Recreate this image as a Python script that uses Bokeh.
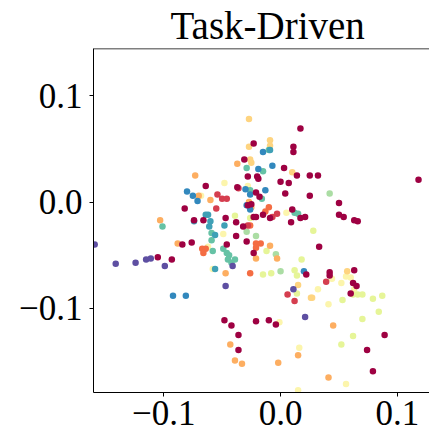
from bokeh.plotting import figure
from bokeh.models import FixedTicker, CustomJSTickFormatter, Span
from bokeh.embed import file_html
from bokeh.resources import INLINE

TITLE = "Task-Driven"
X_MIN, X_MAX = -0.16, 0.1274
Y_MIN, Y_MAX = -0.179, 0.1443
TICKS = [-0.1, 0.0, 0.1]

# dark red
dr_x = [-0.023, 0.017, 0.011, 0.011, -0.031, -0.028, -0.064, -0.037, -0.020, -0.019, 0.003, 0.014, 0.025, 0.032,
        0.000, 0.007, -0.021, 0.004, -0.018, 0.025, 0.118, 0.050, 0.050, 0.054, 0.063, 0.066, -0.025, -0.028,
        -0.082, -0.074, -0.066, -0.047, -0.038, -0.023, -0.021, -0.015, -0.009, 0.010, 0.017, 0.021, 0.009,
        -0.032, -0.038, -0.029, -0.046, -0.084, -0.076, -0.105, -0.093, -0.023, 0.033, 0.022, 0.042, 0.042,
        0.063, 0.062, 0.065, 0.060, 0.089, 0.074, 0.079, -0.048, -0.042, -0.021, -0.010, -0.004, -0.036, -0.036]
dr_y = [0.055, 0.069, 0.052, 0.047, 0.040, 0.024, 0.015, 0.014, 0.024, 0.022, 0.032, 0.025, 0.025, 0.025,
        0.019, 0.018, 0.009, 0.008, 0.005, 0.006, 0.021, -0.001, -0.012, -0.014, -0.017, -0.018, -0.002, -0.003,
        -0.006, -0.017, -0.017, -0.015, -0.019, -0.014, -0.014, -0.012, -0.015, -0.007, -0.015, -0.014, -0.019,
        -0.023, -0.032, -0.037, -0.040, -0.040, -0.038, -0.052, -0.054, -0.048, -0.042, -0.068, -0.066, -0.069,
        -0.064, -0.076, -0.079, -0.086, -0.125, -0.139, -0.159, -0.111, -0.116, -0.112, -0.111, -0.115, -0.125, -0.139]
# red
r_x = [-0.054, -0.050, -0.046, -0.055, -0.036, -0.003, -0.007, -0.028, 0.039, 0.006, 0.012]
r_y = [0.007, 0.003, 0.003, -0.006, 0.013, -0.011, -0.014, -0.022, -0.075, -0.087, -0.093]
# orange-red
or_x = [-0.010, -0.013, -0.026, -0.067, -0.064, -0.066, -0.021, -0.017, -0.021, -0.026]
or_y = [-0.005, -0.009, -0.022, -0.044, -0.044, -0.048, -0.039, -0.039, -0.043, -0.067]
# orange
o_x = [-0.073, -0.037, -0.070, -0.060, -0.027, -0.025, -0.103, -0.088, -0.009, -0.003, -0.021, -0.047,
       0.045, 0.041, -0.043, -0.039, -0.033, -0.002, 0.015]
o_y = [0.025, 0.036, 0.006, 0.002, 0.000, -0.005, -0.017, -0.039, -0.041, -0.053, -0.053, -0.067,
       -0.116, -0.165, -0.134, -0.149, -0.152, -0.151, -0.144]
# light orange
lo_x = [-0.027, -0.009, -0.009, -0.027, -0.026, -0.025, 0.010, 0.015, 0.026, 0.027, 0.057]
lo_y = [0.078, 0.058, 0.053, 0.052, 0.040, 0.037, 0.028, -0.078, -0.090, -0.090, -0.065]
# pale yellow
py_x = [-0.048, -0.068, -0.028, -0.062, -0.049, -0.058, 0.005, 0.032, 0.041, 0.056, 0.060, 0.052, 0.044,
        0.063, -0.001, 0.016, 0.056, 0.015]
py_y = [0.018, 0.006, 0.015, -0.042, -0.030, -0.063, -0.010, -0.082, -0.096, -0.070, -0.071, -0.076, -0.072,
        -0.082, -0.113, -0.137, -0.171, -0.177]
# yellow-green
yg_x = [-0.039, -0.026, 0.028, 0.018, -0.012, -0.015, -0.008, 0.012, 0.014, 0.014, 0.062, 0.066, 0.070,
        0.053, 0.079, 0.087, 0.084, 0.070, 0.062, 0.052]
yg_y = [-0.013, -0.015, -0.027, -0.054, -0.046, -0.068, -0.067, -0.064, -0.069, -0.086, -0.087, -0.087, -0.087,
        -0.092, -0.091, -0.088, -0.103, -0.110, -0.126, -0.134]
# light green
lg_x = [0.042, -0.029, -0.021, -0.004, 0.000]
lg_y = [0.008, -0.028, -0.032, -0.049, -0.065]
# teal green
tg_x = [-0.029, -0.015, -0.026, -0.016, 0.012, 0.015, -0.101, -0.059, -0.059, -0.058, -0.049, -0.046, -0.044,
        -0.045, -0.042, -0.039, -0.010]
tg_y = [0.032, 0.029, 0.011, 0.003, -0.010, -0.011, -0.023, -0.029, -0.036, -0.046, -0.044, -0.048, -0.050,
        -0.054, -0.057, -0.054, 0.049]
# teal
te_x = [-0.074, -0.064, -0.062, -0.060, -0.061, -0.048, -0.056, -0.056, -0.009]
te_y = [-0.018, -0.012, -0.012, -0.018, -0.023, -0.022, -0.031, -0.063, 0.049]
# blue
b_x = [-0.080, -0.075, -0.071, -0.015, -0.019, -0.007, -0.030, -0.013, -0.026, -0.029, -0.026, 0.020, -0.092, -0.081]
b_y = [0.010, 0.006, 0.001, 0.047, 0.031, 0.034, 0.012, 0.011, 0.007, -0.003, -0.007, -0.065, -0.088, -0.088]
# purple
p_x = [-0.159, -0.141, -0.124, -0.115, -0.111, -0.099, -0.041, -0.047, 0.011, 0.021]
p_y = [-0.040, -0.058, -0.057, -0.054, -0.053, -0.060, -0.060, -0.079, -0.082, -0.108]

groups = [
    (py_x, py_y, "#fcf5ac"),
    (yg_x, yg_y, "#e6f598"),
    (lg_x, lg_y, "#abdda4"),
    (lo_x, lo_y, "#fed480"),
    (o_x, o_y, "#fdae61"),
    (or_x, or_y, "#f46d43"),
    (r_x, r_y, "#d53e4f"),
    (tg_x, tg_y, "#66c2a5"),
    (te_x, te_y, "#3fa0b6"),
    (b_x, b_y, "#3288bd"),
    (p_x, p_y, "#5e4fa2"),
    (dr_x, dr_y, "#9e0142"),
]

FONT = "Liberation Serif"

p = figure(width=429, height=433, output_backend="svg", toolbar_location=None,
           x_range=(X_MIN, X_MAX), y_range=(Y_MIN, Y_MAX),
           min_border_left=93, min_border_right=0, min_border_top=47, min_border_bottom=41)

for xs, ys, c in groups:
    p.scatter(xs, ys, size=6.5, fill_color=c, line_color=None)

p.title.text = TITLE
p.title.text_font = FONT
p.title.text_font_size = "39px"
p.title.text_font_style = "normal"
p.title.text_color = "black"
p.title.align = "left"
p.title.offset = 77
p.title.standoff = 3

p.grid.visible = False
p.outline_line_color = None
p.add_layout(Span(location=Y_MAX, dimension="width", line_color="black", line_width=1.5))

fmt = CustomJSTickFormatter(code="return tick.toFixed(1).replace('-', '\u2212');")
for ax in (p.xaxis[0], p.yaxis[0]):
    ax.ticker = FixedTicker(ticks=TICKS)
    ax.formatter = fmt
    ax.major_label_text_font = FONT
    ax.major_label_text_font_size = "35px"
    ax.major_label_text_color = "black"
    ax.axis_line_color = "black"
    ax.major_tick_line_color = "black"
    ax.major_tick_out = 4
    ax.major_tick_in = 0
    ax.minor_tick_line_color = None
p.xaxis[0].major_label_standoff = 4
p.yaxis[0].major_label_standoff = 7

open("out.html", "w").write(file_html(p, INLINE))
